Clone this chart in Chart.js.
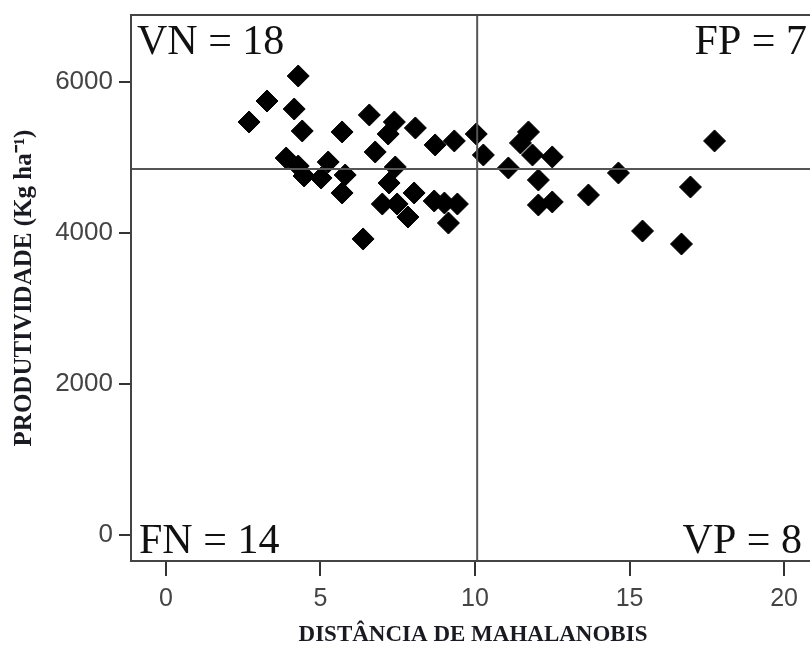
<!DOCTYPE html>
<html>
<head>
<meta charset="utf-8">
<script src="https://cdn.jsdelivr.net/npm/chart.js@4"></script>
<style>
  html, body { margin: 0; padding: 0; background: #fff; overflow: hidden; }
  #wrap { width: 840px; height: 650px; }
</style>
</head>
<body>
<div id="wrap"><canvas id="maha" width="840" height="650"></canvas></div>
<script>
// distância de Mahalanobis (x) e produtividade em kg/ha (y)
const distancia = [
  2.69, 3.27, 4.28, 4.15, 4.41, 5.70, 6.58, 7.39, 7.19, 8.07, 8.71, 9.33, 10.04, 10.27, 11.08, 6.77,
  3.89, 4.28, 4.47, 5.02, 5.25, 5.80, 5.70, 7.42, 7.22, 7.00, 7.48, 7.83, 8.03, 8.68, 9.01, 9.43,
  9.14, 6.38, 11.73, 11.47, 11.86, 12.50, 12.05, 12.05, 12.50, 13.67, 14.64, 15.42, 16.97, 16.68, 17.75
];
const produtividade = [
  5470, 5748, 6079, 5642, 5351, 5338, 5563, 5470, 5311, 5391, 5166, 5219, 5311, 5033, 4861, 5073,
  4993, 4887, 4755, 4728, 4940, 4768, 4530, 4874, 4662, 4384, 4384, 4212, 4530, 4424, 4397, 4384,
  4132, 3921, 5338, 5192, 5033, 5007, 4702, 4371, 4411, 4503, 4795, 4026, 4609, 3854, 5219
];
const xTicks = [0, 5, 10, 15, 20];
const yTicks = [0, 2000, 4000, 6000];
const corteX = 10.07;   // limite da distância
const corteY = 4848;    // limite da produtividade
const quadrantes = { VN: 18, FP: 7, FN: 14, VP: 8 };

const quadPlugin = {
  id: 'quadrantes',
  afterDatasetsDraw(chart) {
    const { ctx, chartArea: a, scales: { x, y } } = chart;
    ctx.save();
    ctx.strokeStyle = '#555';
    ctx.lineWidth = 2;
    const px = x.getPixelForValue(corteX);
    const py = y.getPixelForValue(corteY);
    ctx.beginPath();
    ctx.moveTo(px, a.top); ctx.lineTo(px, a.bottom);
    ctx.moveTo(a.left, py); ctx.lineTo(a.right, py);
    ctx.stroke();
    ctx.strokeStyle = '#444';
    ctx.strokeRect(a.left, a.top, a.right - a.left, a.bottom - a.top);

    ctx.fillStyle = '#111';
    ctx.font = '42px "Liberation Serif", serif';
    ctx.textBaseline = 'alphabetic';
    ctx.textAlign = 'left';
    ctx.fillText('VN = ' + quadrantes.VN, a.left + 6, a.top + 39);
    ctx.fillText('FN = ' + quadrantes.FN, a.left + 8, a.bottom - 8);
    ctx.textAlign = 'right';
    ctx.fillText('FP = ' + quadrantes.FP, a.right - 8, a.top + 39);
    ctx.fillText('VP = ' + quadrantes.VP, a.right - 13, a.bottom - 8);
    ctx.restore();
  }
};

new Chart(document.getElementById('maha'), {
  type: 'scatter',
  data: {
    datasets: [{
      data: distancia.map((d, i) => ({ x: d, y: produtividade[i] })),
      pointStyle: 'rectRot',
      pointRadius: 11,
      pointHoverRadius: 11,
      backgroundColor: '#000',
      borderColor: '#000',
      borderWidth: 1
    }]
  },
  options: {
    responsive: false,
    animation: false,
    layout: { autoPadding: false, padding: { top: 15, right: 25, left: 0, bottom: 0 } },
    plugins: { legend: { display: false }, tooltip: { enabled: false } },
    scales: {
      x: {
        min: -1.13, max: 21,
        afterFit: s => { s.height = 89; s.paddingLeft = 0; s.paddingRight = 0; },
        afterBuildTicks: s => { s.ticks = xTicks.map(v => ({ value: v })); },
        grid: { drawOnChartArea: false, color: '#333', lineWidth: 2, tickLength: 15 },
        border: { display: true, color: '#444', width: 2 },
        ticks: { color: '#444', padding: 8, font: { family: '"Liberation Sans"', size: 25 }, callback: v => String(v) },
        title: {
          display: true,
          text: 'DISTÂNCIA DE MAHALANOBIS',
          color: '#1a1a22',
          font: { family: '"Liberation Serif"', size: 23, weight: 'bold' },
          padding: { top: 0, bottom: 1 }
        }
      },
      y: {
        min: -344, max: 6887,
        afterFit: s => { s.width = 131; s.paddingTop = 0; s.paddingBottom = 0; },
        afterBuildTicks: s => { s.ticks = yTicks.map(v => ({ value: v })); },
        grid: { drawOnChartArea: false, color: '#333', lineWidth: 2, tickLength: 12 },
        border: { display: true, color: '#444', width: 2 },
        ticks: { color: '#444', padding: 6, font: { family: '"Liberation Sans"', size: 26 }, callback: v => String(v) },
        title: {
          display: true,
          text: 'PRODUTIVIDADE (Kg ha⁻¹)',
          color: '#1a1a22',
          font: { family: '"Liberation Serif"', size: 25, weight: 'bold' },
          padding: { top: 10, bottom: 0 }
        }
      }
    }
  },
  plugins: [quadPlugin]
});
</script>
</body>
</html>
